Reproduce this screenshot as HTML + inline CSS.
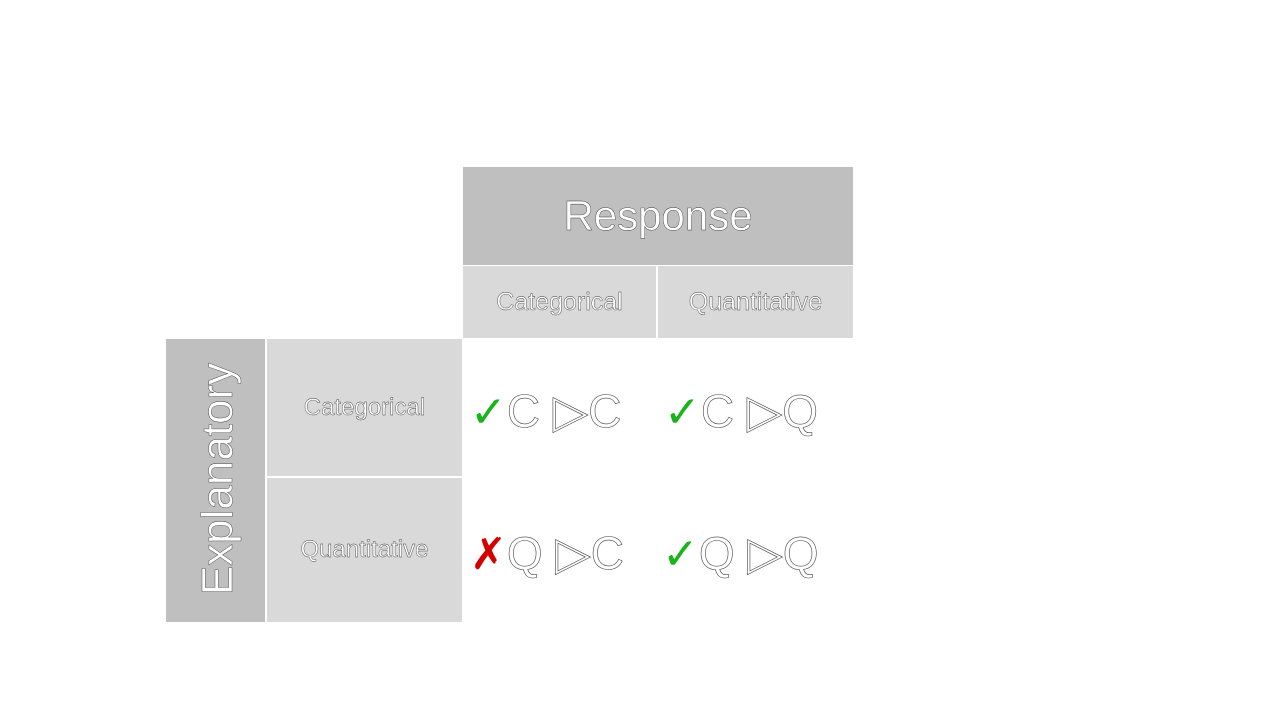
<!DOCTYPE html>
<html><head><meta charset="utf-8"><style>
body{margin:0;width:1280px;height:720px;background:#fff;position:relative;overflow:hidden;font-family:"Liberation Sans","DejaVu Sans",sans-serif}
.b{position:absolute;display:flex;align-items:center;justify-content:center;color:#fff;-webkit-text-stroke:0.4px #333}
.d{background:#bfbfbf}.l{background:#d9d9d9}
.t{position:absolute;font-size:46px;color:#fff;-webkit-text-stroke:0.6px #444;white-space:nowrap;line-height:1}
.ok{color:#1bb31b;-webkit-text-stroke:0;font-size:44px}
.no{color:#d40000;-webkit-text-stroke:0;font-size:44px;font-weight:bold}
</style></head><body>
<div class="b d" style="left:463px;top:167px;width:390px;height:98px;font-size:42px">Response</div>
<div class="b l" style="left:463px;top:266px;width:193px;height:72px;font-size:25px">Categorical</div>
<div class="b l" style="left:658px;top:266px;width:195px;height:72px;font-size:25px">Quantitative</div>
<div class="b d" style="left:166px;top:339px;width:99px;height:283px"></div>
<div style="position:absolute;left:218px;top:479px;transform:translate(-50%,-50%) rotate(-90deg);font-size:44px;color:#fff;-webkit-text-stroke:0.4px #333;white-space:nowrap">Explanatory</div>
<div class="b l" style="left:267px;top:339px;width:195px;height:137px;font-size:24px">Categorical</div>
<div class="b l" style="left:267px;top:478px;width:195px;height:144px;font-size:24px">Quantitative</div>
<div class="t" style="left:470px;top:388px"><span class="ok">✓</span>C&nbsp;▷C</div>
<div class="t" style="left:664px;top:388px"><span class="ok">✓</span>C&nbsp;▷Q</div>
<div class="t" style="left:470px;top:530px"><span class="no">✗</span>Q&nbsp;▷C</div>
<div class="t" style="left:662px;top:530px"><span class="ok">✓</span>Q&nbsp;▷Q</div>
</body></html>
